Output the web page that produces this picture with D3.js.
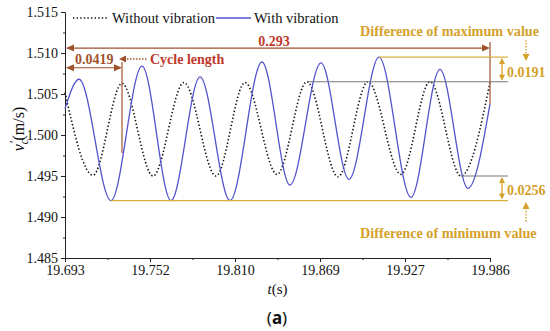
<!DOCTYPE html>
<html><head><meta charset="utf-8">
<script src="https://cdn.jsdelivr.net/npm/d3@7"></script>
<style>body{margin:0;background:#fff}svg{display:block}</style>
</head><body>
<svg id="c" width="550" height="331"></svg>
<script>
// ---- data ----
const xTickLabels = ["19.693","19.752","19.810","19.869","19.927","19.986"];
const yTickLabels = ["1.485","1.490","1.495","1.500","1.505","1.510","1.515"];
const seriesNames = ["Without vibration","With vibration"];
// without vibration (dotted) : extrema
const tNoVib = [19.693,19.7123,19.7323,19.7537,19.7750,19.7971,19.8171,19.8392,19.8598,19.8812,19.9019,19.9246,19.9446,19.9660,19.986];
const vNoVib = [1.5052,1.4951,1.5063,1.4950,1.5064,1.4950,1.5064,1.4952,1.5065,1.4949,1.5065,1.4952,1.5065,1.4950,1.5064];
// with vibration (solid blue)
const tVib = [19.693,19.7027,19.7247,19.7461,19.7661,19.7861,19.8068,19.8288,19.8481,19.8695,19.8888,19.9095,19.9315,19.9515,19.9708,19.986];
const vVib = [1.5032,1.5068,1.4920,1.5084,1.4920,1.5071,1.4920,1.5089,1.4939,1.5088,1.4946,1.5095,1.4924,1.5080,1.4935,1.5038];
// annotation values
const annTexts = {total:"0.293", cycle:"0.0419", cycleLbl:"Cycle length", dMax:"0.0191", dMin:"0.0256",
  maxLbl:"Difference of maximum value", minLbl:"Difference of minimum value"};

// ---- chart ----
const svg = d3.select("#c");
const X0 = 19.693, X1 = 19.986;
const x = d3.scaleLinear().domain([X0, X1]).range([65, 490]);
const y = d3.scaleLinear().domain([1.485, 1.515]).range([258, 12]);
const serif = "'Liberation Serif','Times New Roman',serif";

const xTickVals = xTickLabels.map((d,i)=> X0 + i*(X1-X0)/(xTickLabels.length-1));
const yTickVals = yTickLabels.map(d=>+d);
const xMinor = xTickVals.slice(0,-1).map((d,i)=>(d+xTickVals[i+1])/2);
const yMinor = yTickVals.slice(0,-1).map((d,i)=>(d+yTickVals[i+1])/2);

svg.append("g").attr("transform",`translate(0,${y(1.485)})`)
  .call(d3.axisBottom(x).tickValues(xTickVals).tickFormat((d,i)=>xTickLabels[i]).tickSizeOuter(0).tickSize(4).tickPadding(3));
svg.append("g").attr("transform",`translate(0,${y(1.485)})`)
  .call(d3.axisBottom(x).tickValues(xMinor).tickFormat("").tickSizeOuter(0).tickSize(2))
  .select(".domain").remove();
svg.append("g").attr("transform",`translate(${x(X0)},0)`)
  .call(d3.axisLeft(y).tickValues(yTickVals).tickFormat((d,i)=>yTickLabels[i]).tickSizeOuter(0).tickSize(4).tickPadding(3));
svg.append("g").attr("transform",`translate(${x(X0)},0)`)
  .call(d3.axisLeft(y).tickValues(yMinor).tickFormat("").tickSizeOuter(0).tickSize(2))
  .select(".domain").remove();
svg.selectAll(".tick text").attr("font-family",serif).attr("font-size",14).attr("fill","#111");
svg.selectAll(".domain,.tick line").attr("stroke","#222").attr("stroke-width",1);

// axis titles
const yl = svg.append("text").attr("transform",`translate(24,129) rotate(-90)`)
  .attr("text-anchor","middle").attr("font-family",serif).attr("font-size",16).attr("fill","#111");
yl.append("tspan").attr("font-style","italic").text("v");
yl.append("tspan").attr("font-style","italic").attr("font-size",11.5).attr("dy",4).text("c");
yl.append("tspan").attr("font-size",11.5).attr("dy",-10).attr("dx",-4).text("′");
yl.append("tspan").attr("dy",6).text("(m/s)");

const xl = svg.append("text").attr("x",(x(X0)+x(X1))/2).attr("y",294).attr("text-anchor","middle")
  .attr("font-family",serif).attr("font-size",15).attr("fill","#111");
xl.append("tspan").attr("font-style","italic").text("t");
xl.append("tspan").text("(s)");

// lines
const line = d3.line().x(d=>x(d[0])).y(d=>y(d[1])).curve(d3.curveMonotoneX);
const dNo = tNoVib.map((t,i)=>[t,vNoVib[i]]);
const dV = tVib.map((t,i)=>[t,vVib[i]]);
svg.append("path").attr("d",line(dNo)).attr("fill","none").attr("stroke","#111")
  .attr("stroke-width",1.6).attr("stroke-dasharray","1.4 2.2");
svg.append("path").attr("d",line(dV)).attr("fill","none").attr("stroke","#5353cc").attr("stroke-width",1.3);

// legend
svg.append("line").attr("x1",73).attr("x2",108).attr("y1",18).attr("y2",18)
  .attr("stroke","#111").attr("stroke-width",1.6).attr("stroke-dasharray","1.4 2.2");
svg.append("text").attr("x",112).attr("y",22.5).attr("font-family",serif).attr("font-size",14.5).attr("fill","#111").text(seriesNames[0]);
svg.append("line").attr("x1",216).attr("x2",251).attr("y1",18).attr("y2",18)
  .attr("stroke","#5353cc").attr("stroke-width",1.3);
svg.append("text").attr("x",254).attr("y",22.5).attr("font-family",serif).attr("font-size",14.5).attr("fill","#111").text(seriesNames[1]);

// ---- annotations ----
const brown = "#a0522d", red = "#c0392b", gold = "#d4a12a", goldLine = "#d8b040", gray = "#777";
function arrowHead(px,py,dir,col,len=8,w=3.5){
  let pts;
  if(dir==="left") pts=[[px,py],[px+len,py-w],[px+len,py+w]];
  if(dir==="right") pts=[[px,py],[px-len,py-w],[px-len,py+w]];
  if(dir==="up") pts=[[px,py],[px-w,py+len],[px+w,py+len]];
  if(dir==="down") pts=[[px,py],[px-w,py-len],[px+w,py-len]];
  svg.append("polygon").attr("points",pts.map(p=>p.join(",")).join(" ")).attr("fill",col);
}
function seg(x1,y1,x2,y2,col,w=1,dash=null){
  const l=svg.append("line").attr("x1",x1).attr("y1",y1).attr("x2",x2).attr("y2",y2).attr("stroke",col).attr("stroke-width",w);
  if(dash) l.attr("stroke-dasharray",dash);
}
function label(tx,ty,txt,col,anchor="start",size=13.5){
  return svg.append("text").attr("x",tx).attr("y",ty).attr("text-anchor",anchor).attr("font-family",serif)
    .attr("font-weight","bold").attr("font-size",size).attr("fill",col).text(txt);
}
// total length 0.293
const yTot = y(1.5106);
seg(x(X0)+2,yTot,x(X1)-2,yTot,brown,1.2);
arrowHead(x(X0)+1,yTot,"left",brown);
arrowHead(x(X1),yTot,"right",brown);
seg(x(X1),42,x(X1),y(vVib[vVib.length-1]),brown,1.2);
label(274,46,annTexts.total,red,"middle",14);
// cycle length
const yCyc = y(1.5082);
const xCyc = x(tNoVib[2]);
seg(x(X0)+2,yCyc,xCyc-2,yCyc,brown,1.2);
arrowHead(x(X0)+1,yCyc,"left",brown);
arrowHead(xCyc,yCyc,"right",brown);
seg(xCyc,62,xCyc,153,brown,1.2);
label(75,64,annTexts.cycle,brown,"start",14);
arrowHead(119,59,"left",brown,7,3.5);
seg(127,59,148,59,brown,1.4,"1.5 1.5");
label(150,64,annTexts.cycleLbl,red,"start",14);

// max difference
const yMaxB = y(d3.max(vVib)), yMaxN = y(d3.max(vNoVib));
const tMaxB = tVib[vVib.indexOf(d3.max(vVib))];
seg(x(tMaxB),yMaxB,508,yMaxB,goldLine,1.2);
seg(x(tNoVib[8]),yMaxN,508,yMaxN,gray,1.1);
seg(502,yMaxB+5,502,yMaxN-5,gold,1.3);
arrowHead(502,yMaxB+1,"up",gold,6,3);
arrowHead(502,yMaxN-1,"down",gold,6,3);
label(507,77,annTexts.dMax,gold,"start",14);
label(360,36,annTexts.maxLbl,gold,"start",14.2);
seg(526,40,526,55,gold,1.4,"1.5 1.5");
arrowHead(526,61,"down",gold,7,3.5);

// min difference
const yMinB = y(d3.min(vVib)), yMinN = y(vNoVib[13]);
seg(x(tVib[2]),yMinB,508,yMinB,goldLine,1.2);
seg(x(tNoVib[13]),yMinN,508,yMinN,gray,1.1);
seg(502,yMinN+5,502,yMinB-5,gold,1.3);
arrowHead(502,yMinN+1,"up",gold,6,3);
arrowHead(502,yMinB-1,"down",gold,6,3);
label(507,195,annTexts.dMin,gold,"start",14);
seg(526,208,526,222,gold,1.4,"1.5 1.5");
arrowHead(526,202,"up",gold,7,3.5);
label(360,238,annTexts.minLbl,gold,"start",14.2);

// panel label
const pl = svg.append("text").attr("x",277).attr("y",324).attr("text-anchor","middle")
  .attr("font-family","'Noto Sans','DejaVu Sans',sans-serif").attr("font-size",17).attr("fill","#111");
pl.append("tspan").text("(");
pl.append("tspan").attr("font-weight","bold").text("a");
pl.append("tspan").text(")");
</script>
</body></html>
